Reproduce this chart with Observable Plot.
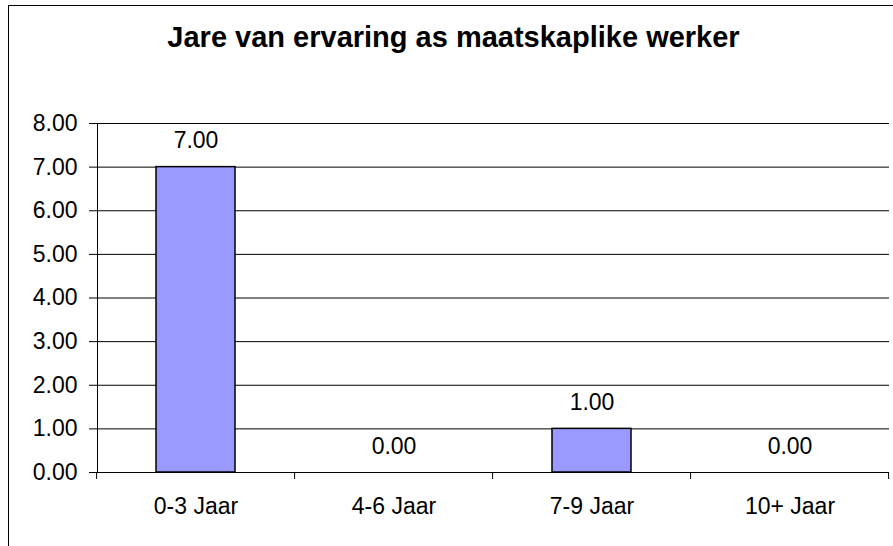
<!DOCTYPE html>
<html><head><meta charset="utf-8">
<script src="https://cdn.jsdelivr.net/npm/d3@7"></script>
<script src="https://cdn.jsdelivr.net/npm/@observablehq/plot@0.6"></script>
<style>
body{margin:0;background:#fff;overflow:hidden;}
#wrap{position:relative;width:893px;height:546px;overflow:hidden;font-family:"Liberation Sans",Arial,sans-serif;background:#fff;}
#frame{position:absolute;left:8px;top:5px;width:889px;height:600px;border:1px solid #000;}
#title{position:absolute;left:9px;width:889px;top:0;height:60px;box-sizing:border-box;padding-top:22.5px;line-height:29px;font-size:29px;font-weight:bold;text-align:center;color:#000;}
#chart{position:absolute;left:0;top:60px;}
</style>
</head><body>
<div id="wrap"><div id="frame"></div><div id="title">Jare van ervaring as maatskaplike werker</div><div id="chart"></div></div>
<script>
const categories = ["0-3 Jaar", "4-6 Jaar", "7-9 Jaar", "10+ Jaar"];
const values = [7, 0, 1, 0];
const yTicks = [0, 1, 2, 3, 4, 5, 6, 7, 8];

const data = categories.map((c, i) => ({cat: c, value: values[i]}));
const fmt = d3.format(".2f");
const PAD_IN = 0.6, PAD_OUT = 0.3;

function boundaryTicks(index, scales, values, dims) {
  const x = scales.x, y = scales.y;
  const step = x(categories[1]) - x(categories[0]);
  const xs = categories.map(c => x(c) - step * PAD_IN / 2);
  xs.push(x(categories[categories.length - 1]) + step * (1 - PAD_IN) + step * PAD_IN / 2);
  const g = d3.create("svg:g");
  const y0 = y(0);
  g.selectAll("line.t").data(xs).join("line")
    .attr("x1", d => d).attr("x2", d => d)
    .attr("y1", y0).attr("y2", y0 + 7)
    .attr("stroke", "#000").attr("stroke-width", 1);
  g.append("line")
    .attr("x1", dims.marginLeft + 0.5).attr("x2", dims.marginLeft + 0.5)
    .attr("y1", y(yTicks[yTicks.length - 1])).attr("y2", y0)
    .attr("stroke", "#000").attr("stroke-width", 1);
  return g.node();
}

const chart = Plot.plot({
  width: 893,
  height: 486,
  marginLeft: 97,
  marginRight: 4,
  marginTop: 63,
  marginBottom: 74,
  style: {fontFamily: "'Liberation Sans', Arial, sans-serif", fontSize: "23px", color: "#000", background: "transparent"},
  x: {type: "band", domain: categories, paddingInner: PAD_IN, paddingOuter: PAD_OUT, label: null},
  y: {domain: [0, 8], label: null},
  marks: [
    Plot.ruleY(yTicks, {stroke: "#000", strokeWidth: 1}),
    Plot.barY(data, {x: "cat", y: "value", fill: "#9999ff", stroke: "#000", strokeWidth: 1.5, filter: d => d.value > 0}),
    boundaryTicks,
    Plot.axisY({ticks: yTicks, tickFormat: fmt, tickSize: 8, tickPadding: 12, stroke: "#000"}),
    Plot.axisX({tickSize: 0, tickPadding: 25}),
    Plot.text(data, {x: "cat", y: "value", text: d => fmt(d.value), lineAnchor: "bottom", dy: -19, fill: "#000"})
  ]
});
document.getElementById("chart").appendChild(chart);
</script>
</body></html>
